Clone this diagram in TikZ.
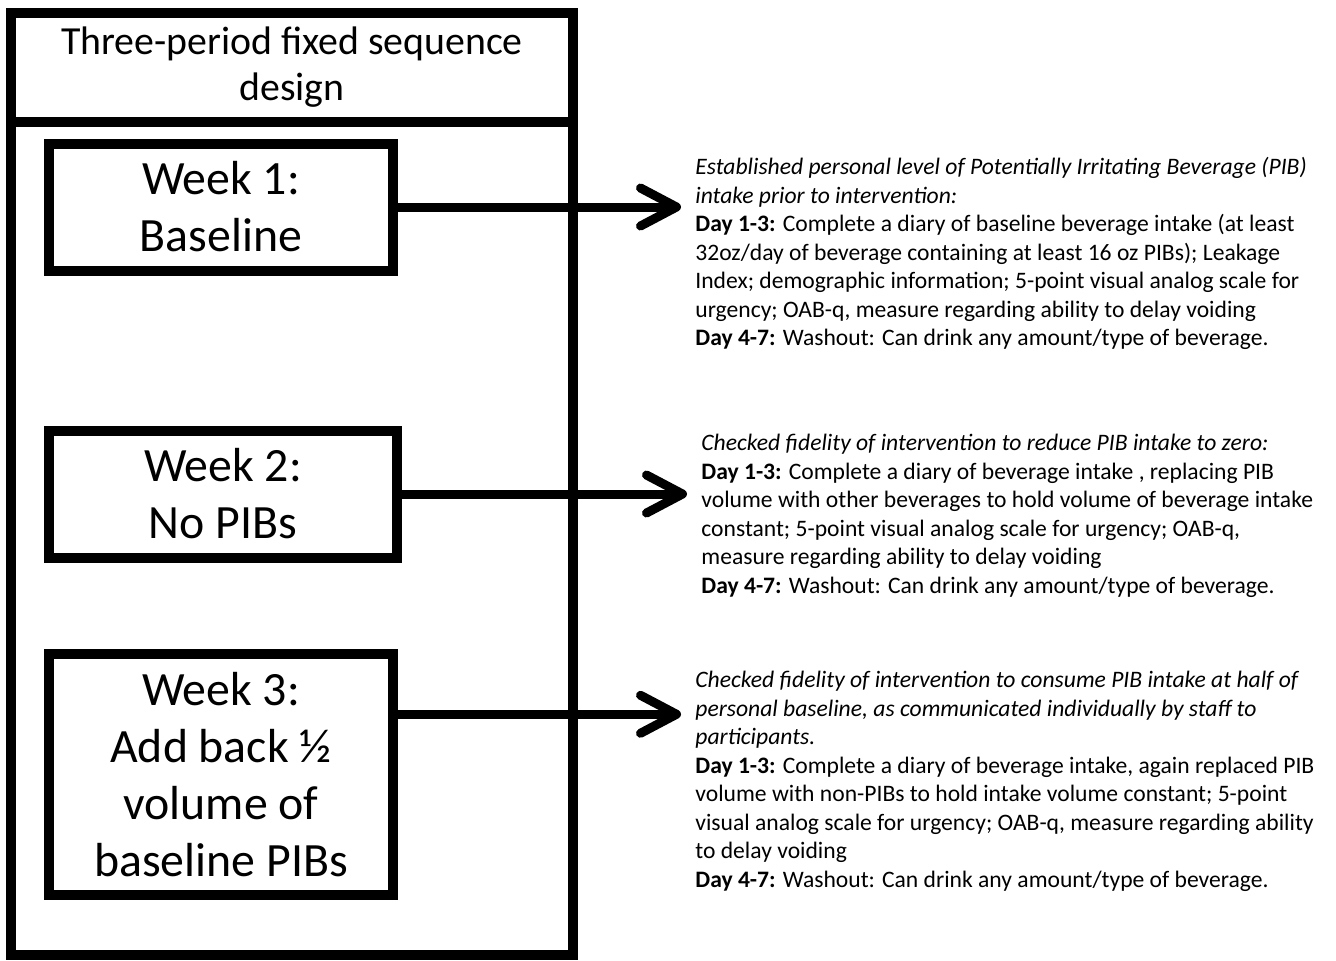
\documentclass[tikz,border=0pt]{standalone}
\usepackage{fontspec}
\setmainfont{Carlito}
\usepackage{tikz}
\usetikzlibrary{arrows.meta,positioning,calc}
\tikzset{
  frame/.style={draw, line width=5pt, minimum width=281pt, inner sep=0pt, align=center},
  week/.style={draw, line width=5pt, align=center, inner sep=0pt,
    font=\fontsize{23.9}{28.5}\selectfont},
  info/.style={anchor=north west, align=left, inner sep=0pt, inner xsep=7pt,
    font=\fontsize{11.8}{14.25}\selectfont},
  arr/.style={line width=4.5pt, -{Straight Barb[length=18pt,width=19pt,round]}}
}

\begin{document}
\begin{tikzpicture}[x=0.5pt,y=-0.5pt]
\useasboundingbox (0,0) rectangle (1336,960);
% outer frame
\node[frame, minimum height=54.5pt, font=\fontsize{19.9}{23}\selectfont] (title) at (292,67.5) {Three-period fixed sequence\\design};
\node[frame, minimum height=416.5pt] (body) at (292,538.5) {};
% weeks
\node[week, minimum width=172pt, minimum height=63.5pt] (wk1) at (221,207) {Week 1:\\Baseline};
\node[week, minimum width=174pt, minimum height=63.5pt] (wk2) at (223,494) {Week 2:\\No PIBs};
\node[week, minimum width=172pt, minimum height=120.5pt] (wk3) at (221,774.5) {Week 3:\\Add back ½\\volume of\\baseline PIBs};
% descriptions
\node[info] (info1) at (681,157) {\textit{Established personal level of Potentially Irritating Beverage (PIB)}\\
\textit{intake prior to intervention:}\\
\textbf{Day 1-3:} Complete a diary of baseline beverage intake (at least\\
32oz/day of beverage containing at least 16 oz PIBs); Leakage\\
Index; demographic information; 5-point visual analog scale for\\
urgency; OAB-q, measure regarding ability to delay voiding\\
\textbf{Day 4-7:} Washout: Can drink any amount/type of beverage.};
\node[info] (info2) at (687,434) {\textit{Checked fidelity of intervention to reduce PIB intake to zero:}\\
\textbf{Day 1-3:} Complete a diary of beverage intake , replacing PIB\\
volume with other beverages to hold volume of beverage intake\\
constant; 5-point visual analog scale for urgency; OAB-q,\\
measure regarding ability to delay voiding\\
\textbf{Day 4-7:} Washout: Can drink any amount/type of beverage.};
\node[info] (info3) at (681,671) {\textit{Checked fidelity of intervention to consume PIB intake at half of}\\
\textit{personal baseline, as communicated individually by staff to}\\
\textit{participants.}\\
\textbf{Day 1-3:} Complete a diary of beverage intake, again replaced PIB\\
volume with non-PIBs to hold intake volume constant; 5-point\\
visual analog scale for urgency; OAB-q, measure regarding ability\\
to delay voiding\\
\textbf{Day 4-7:} Washout: Can drink any amount/type of beverage.};
% arrows
\draw[arr] (wk1.east) -- (wk1.east -| info1.west);
\draw[arr] (wk2.east) -- (wk2.east -| info2.west);
\coordinate (w3out) at ($(wk3.north east)!0.26!(wk3.south east)$);
\draw[arr] (w3out) -- (w3out -| info3.west);
\end{tikzpicture}
\end{document}
